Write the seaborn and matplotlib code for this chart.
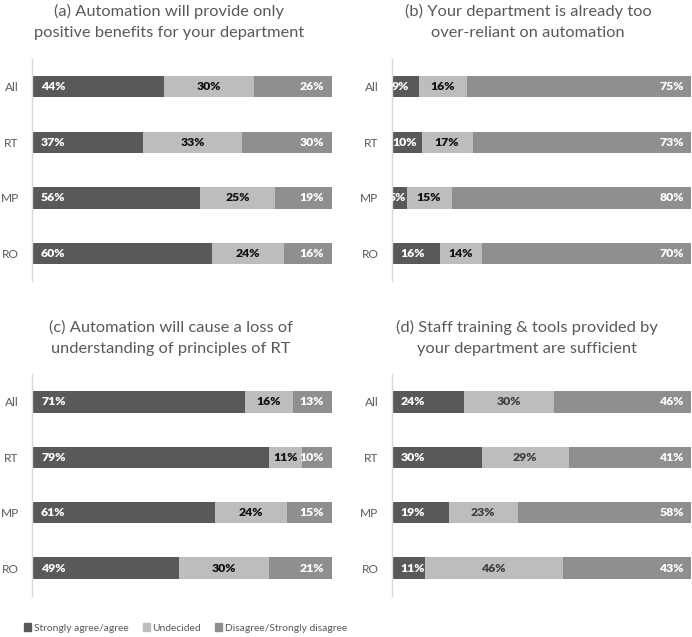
import matplotlib
matplotlib.use("Agg")
import matplotlib.pyplot as plt
import seaborn as sns
import pandas as pd
from matplotlib.patches import Patch

groups = ["All", "RT", "MP", "RO"]
series = ["Strongly agree/agree", "Undecided", "Disagree/Strongly disagree"]
titles = [
    "(a) Automation will provide only\npositive benefits for your department",
    "(b) Your department is already too\nover-reliant on automation",
    "(c) Automation will cause a loss of\nunderstanding of principles of RT",
    "(d) Staff training & tools provided by\nyour department are sufficient",
]
agree_a = [44, 37, 56, 60]
undec_a = [30, 33, 25, 24]
disag_a = [26, 30, 19, 16]
agree_b = [9, 10, 5, 16]
undec_b = [16, 17, 15, 14]
disag_b = [75, 73, 80, 70]
agree_c = [71, 79, 61, 49]
undec_c = [16, 11, 24, 30]
disag_c = [13, 10, 15, 21]
agree_d = [24, 30, 19, 11]
undec_d = [30, 29, 23, 46]
disag_d = [46, 41, 58, 43]

panels = [
    (agree_a, undec_a, disag_a),
    (agree_b, undec_b, disag_b),
    (agree_c, undec_c, disag_c),
    (agree_d, undec_d, disag_d),
]

sns.set_theme(style="white")
plt.rcParams["font.family"] = ["Lato", "DejaVu Sans"]

C_AGREE = "#595959"
C_UNDEC = "#BDBDBD"
C_DIS = "#8F8F8F"
TXT = "#595959"

W, H = 692, 637
fig = plt.figure(figsize=(W / 100, H / 100), dpi=100)

# axes rectangles in pixel coords: (left, top, width, height)
rects = [
    (32, 58.9, 300, 222.4),
    (391.5, 58.9, 300, 222.4),
    (32, 374.3, 300, 221.4),
    (391.5, 374.3, 300, 221.4),
]
title_pos = [(169, 22), (528, 22), (171, 338), (527, 338)]
undec_txt = ["#111111", "#111111", "#111111", "#404040"]

for i, ((ag, un, di), (l, t, w, h)) in enumerate(zip(panels, rects)):
    ax = fig.add_axes([l / W, 1 - (t + h) / H, w / W, h / H])
    df = pd.DataFrame({"group": groups, "agree": ag, "undec": un, "dis": di})
    df["c1"] = df["agree"]
    df["c2"] = df["agree"] + df["undec"]
    df["c3"] = df["c2"] + df["dis"]
    for col, color in [("c3", C_DIS), ("c2", C_UNDEC), ("c1", C_AGREE)]:
        sns.barplot(data=df, x=col, y="group", order=groups, color=color,
                    width=0.387, linewidth=0, saturation=1, ax=ax, orient="h")
    ax.set_xlim(0, 100)
    ax.set_ylim(3.5, -0.5)
    ax.set_xlabel("")
    ax.set_ylabel("")
    ax.set_xticks([])
    for s in ["top", "right", "bottom"]:
        ax.spines[s].set_visible(False)
    ax.spines["left"].set_color("#D9D9D9")
    ax.spines["left"].set_linewidth(1.0)
    ax.tick_params(axis="y", length=0, pad=9.5, labelsize=8.6, labelcolor=TXT)
    for j in range(len(groups)):
        a, u, d = ag[j], un[j], di[j]
        off = 3 if a >= 11 else max(-1.0, (a - 9) * 0.2)
        ax.text(off, j, f"{a}%", ha="left", va="center", color="white",
                fontsize=8.8, fontweight="heavy", clip_on=True)
        ax.text(a + u / 2, j, f"{u}%", ha="center", va="center",
                color=undec_txt[i], fontsize=8.8, fontweight="heavy")
        ax.text(100 - 2.6, j, f"{d}%", ha="right", va="center", color="white",
                fontsize=8.8, fontweight="heavy")
    tx, ty = title_pos[i]
    fig.text(tx / W, 1 - ty / H, titles[i], ha="center", va="center",
             fontsize=11.8, color=TXT, linespacing=1.62)

handles = [Patch(color=c, label=s) for c, s in zip([C_AGREE, C_UNDEC, C_DIS], series)]
leg = fig.legend(handles=handles, loc="center left", bbox_to_anchor=(20 / W, 1 - 628 / H),
                 ncol=3, frameon=False, fontsize=7.4, handlelength=0.7, handleheight=0.85,
                 handletextpad=0.25, columnspacing=1.35, borderaxespad=0)
for t in leg.get_texts():
    t.set_color(TXT)

fig.savefig("out.png", dpi=100)
